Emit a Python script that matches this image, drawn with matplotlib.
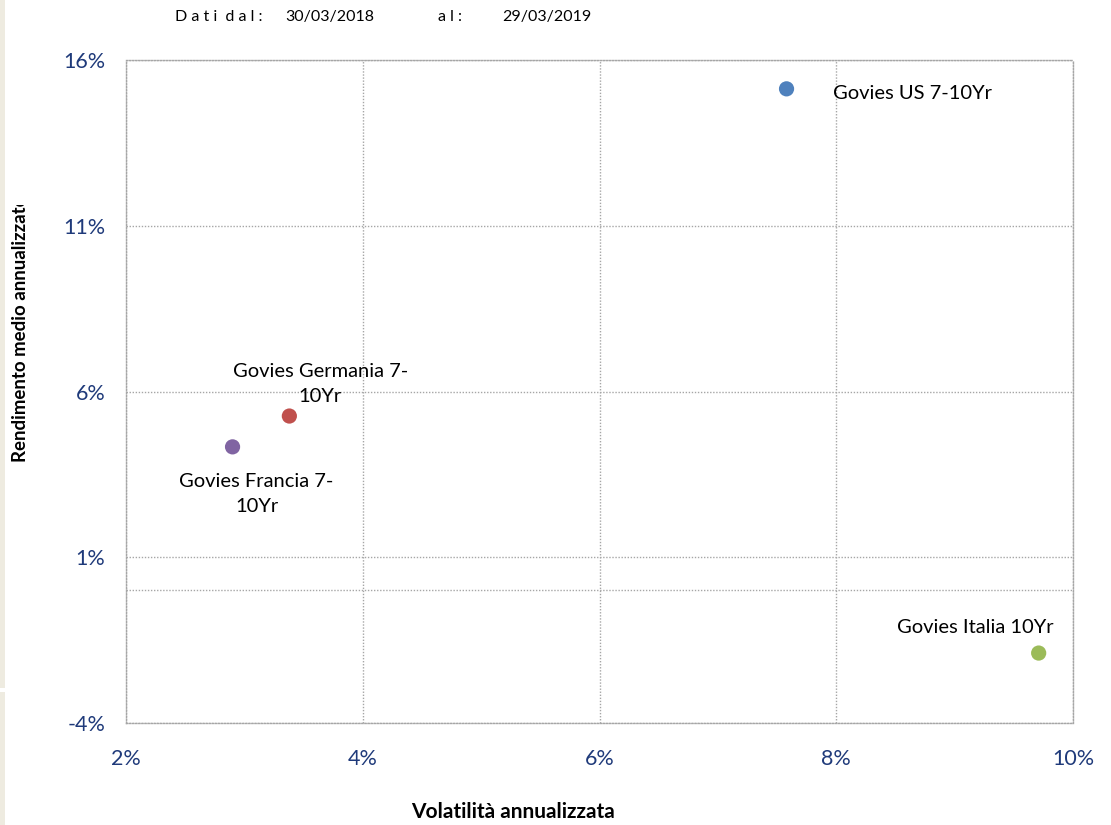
import matplotlib
matplotlib.use("Agg")
import matplotlib.pyplot as plt
from matplotlib.ticker import FuncFormatter, FixedLocator
from matplotlib.patches import Rectangle

names = ["Govies US 7-10Yr", "Govies Germania 7-\n10Yr", "Govies Francia 7-\n10Yr", "Govies Italia 10Yr"]
volatility = [7.58, 3.38, 2.90, 9.71]
returns = [15.13, 5.26, 4.33, -1.89]
colors = ["#4F81BD", "#C0504D", "#8064A2", "#9BBB59"]
x_ticks = [2, 4, 6, 8, 10]
y_ticks = [-4, 1, 6, 11, 16]
date_from = "30/03/2018"
date_to = "29/03/2019"

plt.rcParams['font.family'] = ['Lato', 'DejaVu Sans']

fig = plt.figure(figsize=(11.11, 8.25), dpi=100)
W, H = 1111, 825
ax = fig.add_axes([126 / W, 1 - 723 / H, (1073 - 126) / W, (723 - 60) / H])

ax.scatter(volatility, returns, s=120, c=colors, zorder=3, edgecolors='none')

ax.set_xlim(2, 10)
ax.set_ylim(-4, 16)
ax.xaxis.set_major_locator(FixedLocator(x_ticks))
ax.yaxis.set_major_locator(FixedLocator(y_ticks))
ax.xaxis.set_major_formatter(FuncFormatter(lambda v, p: f"{v:.0f}%"))
ax.yaxis.set_major_formatter(FuncFormatter(lambda v, p: f"{v:.0f}%"))
ax.tick_params(length=0, labelsize=15.5, labelcolor="#1F3A7A")
ax.tick_params(axis='x', pad=19)
ax.tick_params(axis='y', pad=15)

grid_kw = dict(color="#A6A6A6", linestyle=(0, (1, 1.2)), linewidth=1.0)
ax.grid(True, **grid_kw)
ax.axhline(0, zorder=1, **grid_kw)
for s in ax.spines.values():
    s.set_color("#A6A6A6")
    s.set_linestyle((0, (1, 1.2)))
    s.set_linewidth(1.0)

lab_kw = dict(fontsize=14.5, color="black", linespacing=1.6)
offsets = [(46, -5, 'left', 'center'),
           (31, 11, 'center', 'bottom'),
           (24, -26, 'center', 'top'),
           (-63, 17, 'center', 'bottom')]
for n, xv, yv, (dx, dy, ha, va) in zip(names, volatility, returns, offsets):
    ax.annotate(n, (xv, yv), xytext=(dx, dy), textcoords='offset pixels',
                ha=ha, va=va, multialignment='center', **lab_kw)

fig.text(513 / W, 1 - 812 / H, "Volatilità annualizzata", ha='center', va='center',
         fontsize=15, fontweight='bold')
fig.text(21 / W, 1 - 462 / H, "Rendimento medio annualizzato", ha='center', va='bottom',
         rotation=90, fontsize=13.4, fontweight='bold')
# cover the top of the y label as in the reference (clipped text box)
fig.patches.append(Rectangle((5 / W, 1 - 205 / H), 40 / W, 205 / H, transform=fig.transFigure,
                             facecolor="white", edgecolor='none', zorder=10))

hdr_kw = dict(fontsize=11.5, va='center', color="black")
fig.text(175 / W, 1 - 17 / H, "D a t i  d a l :", ha='left', **hdr_kw)
fig.text(285 / W, 1 - 17 / H, date_from, ha='left', **hdr_kw)
fig.text(438 / W, 1 - 17 / H, "a l :", ha='left', **hdr_kw)
fig.text(502 / W, 1 - 17 / H, date_to, ha='left', **hdr_kw)

fig.patches.append(Rectangle((0, 1 - 688 / H), 5 / W, 688 / H, transform=fig.transFigure,
                             facecolor="#EEEBE0", edgecolor='none'))
fig.patches.append(Rectangle((0, 0), 5 / W, 1 - 692 / H, transform=fig.transFigure,
                             facecolor="#EEEBE0", edgecolor='none'))

fig.savefig("out.png", dpi=100)
